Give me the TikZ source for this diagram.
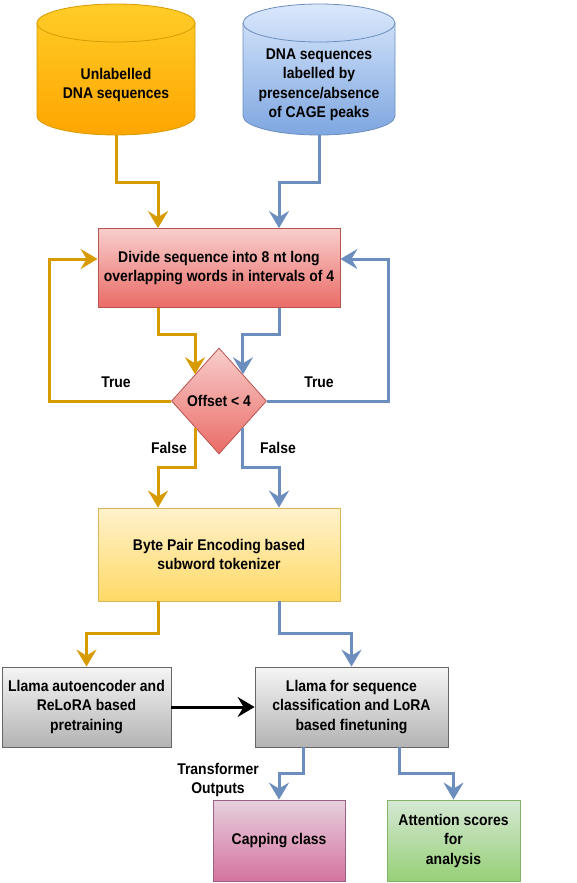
\documentclass[tikz,border=0pt]{standalone}
\usepackage{fontspec}
\setmainfont{Liberation Sans}[FakeStretch=0.9]
\usetikzlibrary{arrows.meta,shapes.geometric}

% Colours of the flow chart
\definecolor{orangeline}{HTML}{D79B00}
\definecolor{blueline}{HTML}{6C8EBF}
\definecolor{redline}{HTML}{B85450}
\definecolor{yellowline}{HTML}{D6B656}
\definecolor{grayline}{HTML}{666666}
\definecolor{pinkline}{HTML}{996185}
\definecolor{greenline}{HTML}{82B366}
\definecolor{orangetop}{HTML}{FFCD28}
\definecolor{orangebot}{HTML}{FFA500}
\definecolor{bluetop}{HTML}{DAE8FC}
\definecolor{bluebot}{HTML}{7EA6E0}
\definecolor{redtop}{HTML}{F8CECC}
\definecolor{redbot}{HTML}{EA6B66}
\definecolor{yellowtop}{HTML}{FFF2CC}
\definecolor{yellowbot}{HTML}{FFD966}
\definecolor{graytop}{HTML}{F5F5F5}
\definecolor{graybot}{HTML}{B3B3B3}
\definecolor{pinktop}{HTML}{E6D0DE}
\definecolor{pinkbot}{HTML}{D5739D}
\definecolor{greentop}{HTML}{D5E8D4}
\definecolor{greenbot}{HTML}{97D077}

\tikzset{
  stepbox/.style={rectangle, draw, line width=0.8pt, align=center, inner sep=2pt},
  flow/.style={line width=3pt, -{Stealth[length=17pt,width=20pt,inset=6pt]}},
  orangeflow/.style={flow, draw=orangeline},
  blueflow/.style={flow, draw=blueline},
}

\begin{document}
\begin{tikzpicture}[x=1pt, y=-1pt, font=\fontsize{15.5}{19.5}\selectfont\bfseries]
\useasboundingbox (0,0) rectangle (577,883);

% Data sources (cylinders)
\path[draw=orangeline, line width=0.8pt, top color=orangetop, bottom color=orangebot]
  (37,23) -- (37,116) arc[start angle=180, end angle=0, x radius=79, y radius=19]
  -- (195,23) arc[start angle=0, end angle=-180, x radius=79, y radius=19] -- cycle;
\draw[orangeline, line width=0.8pt] (37,23) arc[start angle=180, end angle=0, x radius=79, y radius=19];
\coordinate (unlab) at (116,135);
\node[align=center] (unlabtext) at (116,85) {Unlabelled\\DNA sequences};

\path[draw=blueline, line width=0.8pt, top color=bluetop, bottom color=bluebot]
  (243,23) -- (243,116) arc[start angle=180, end angle=0, x radius=76, y radius=19]
  -- (395,23) arc[start angle=0, end angle=-180, x radius=76, y radius=19] -- cycle;
\draw[blueline, line width=0.8pt] (243,23) arc[start angle=180, end angle=0, x radius=76, y radius=19];
\coordinate (lab) at (319,135);
\node[align=center] (labtext) at (319,85) {DNA sequences\\labelled by\\presence/absence\\of CAGE peaks};

% Splitting into words
\node[stepbox, draw=redline, top color=redtop, bottom color=redbot, minimum width=242pt, minimum height=79pt] (divide) at (219,268) {Divide sequence into 8 nt long\\overlapping words in intervals of 4};
\node[diamond, draw=redline, line width=0.8pt, top color=redtop, bottom color=redbot, minimum width=95pt, minimum height=106pt, inner sep=0pt] (offset) at (219,401) {Offset < 4};

% Tokenizer
\node[stepbox, draw=yellowline, top color=yellowtop, bottom color=yellowbot, minimum width=242pt, minimum height=93pt] (bpe) at (219,554.5) {Byte Pair Encoding based\\subword tokenizer};

% Models
\node[stepbox, draw=grayline, top color=graytop, bottom color=graybot, minimum width=169pt, minimum height=80pt] (pretrain) at (86.5,707) {Llama autoencoder and\\ReLoRA based\\pretraining};
\node[stepbox, draw=grayline, top color=graytop, bottom color=graybot, minimum width=193pt, minimum height=80pt] (finetune) at (351.5,707) {Llama for sequence\\classification and LoRA\\based finetuning};

% Outputs
\node[stepbox, draw=pinkline, top color=pinktop, bottom color=pinkbot, minimum width=132pt, minimum height=81pt] (capping) at (279,840.5) {Capping class};
\node[stepbox, draw=greenline, top color=greentop, bottom color=greenbot, minimum width=133pt, minimum height=81pt] (attention) at (453.5,840.5) {Attention scores\\for\\analysis};

% Connectors
\draw[orangeflow] (unlab) -- ++(0,47) -| ([xshift=-61pt]divide.north);
\draw[blueflow] (lab) -- ++(0,47) -| ([xshift=60pt]divide.north);
\draw[orangeflow] ([xshift=-61pt]divide.south) -- ++(0,27) -| (offset.north west);
\draw[blueflow] ([xshift=60pt]divide.south) -- ++(0,27) -| (offset.north east);

% True loops
\draw[orangeflow] (offset.west) -- ++(-122,0) |- ([yshift=9pt]divide.west);
\draw[blueflow] (offset.east) -- ++(122,0) |- ([yshift=9pt]divide.east);
\node (trueleft) at (116,382) {True};
\node (trueright) at (319,382) {True};

% False branches
\draw[orangeflow] (offset.south west) -- ++(0,40) -| ([xshift=-61pt]bpe.north);
\draw[blueflow] (offset.south east) -- ++(0,40) -| ([xshift=60pt]bpe.north);
\node (falseleft) at (169,448) {False};
\node (falseright) at (278,448) {False};

\draw[orangeflow] ([xshift=-61pt]bpe.south) -- ++(0,32) -| (pretrain.north);
\draw[blueflow] ([xshift=60pt]bpe.south) -- ++(0,32) -| (finetune.north);
\draw[flow] (pretrain) -- (finetune);

\draw[blueflow] ([xshift=-48.5pt]finetune.south) -- ++(0,26) -| (capping.north);
\draw[blueflow] ([xshift=47.5pt]finetune.south) -- ++(0,26) -| (attention.north);
\node[align=center] (outputs) at (218,780) {Transformer\\Outputs};

\end{tikzpicture}
\end{document}
